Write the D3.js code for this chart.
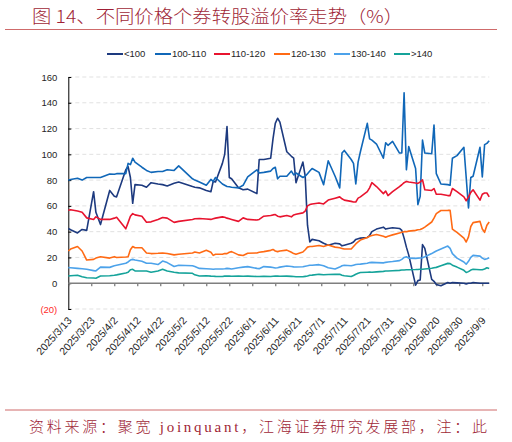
<!DOCTYPE html>
<html>
<head>
<meta charset="utf-8">
<script src="https://cdn.jsdelivr.net/npm/d3@7"></script>
<style>
body{margin:0;background:#fff;}
svg{display:block;}
</style>
</head>
<body>
<div id="chart"></div>
<script>
//trading days (2025)
var dates=['3/13','3/14','3/17','3/19','3/21','3/24','3/25','3/27','3/31','4/2',
'4/3','4/7','4/8','4/9','4/10','4/11','4/14','4/16','4/18','4/21',
'4/23','4/25','4/28','4/30','5/6','5/7','5/9','5/12','5/14','5/15',
'5/16','5/19','5/20','5/21','5/22','5/23','5/26','5/28','5/30','6/3',
'6/4','6/6','6/9','6/10','6/11','6/12','6/13','6/16','6/18','6/19',
'6/20','6/23','6/24','6/25','6/26','6/27','6/30','7/2','7/4','7/7',
'7/9','7/10','7/11','7/14','7/15','7/16','7/17','7/18','7/21','7/22',
'7/23','7/25','7/28','7/29','7/30','8/1','8/4','8/5','8/6','8/7',
'8/8','8/11','8/12','8/13','8/14','8/15','8/18','8/19','8/20','8/22',
'8/25','8/26','8/27','8/29','9/1','9/2','9/3','9/4','9/5','9/8',
'9/9','9/10','9/11','9/12'];

var below100=[42.5,41.5,39,41.7,41,71,55,45.5,72,67.5,
67,88,90.5,82,62,76.5,76,74.5,78,77,
76.5,75.5,77.5,78.5,75,74.5,74,72,71,79,
78.5,93,100,121.5,82,81,74,72.5,73,69.5,
96,96,97,112,124,128,125,102,98.5,97,
78,94,83,45,32,34,33,31,29.5,31,
30.5,29,29.5,31,32,34,34.5,35,35.5,37,
40,42,43.5,42,42.5,43,42.5,41,35,28,
22,-1.5,2,2.5,30,27,3,1.5,-1,-2,
0.5,0,0.5,0.3,0,-0.5,0,0,0.5,0,
0,0,0,0];

var p100_110=[79.8,80.5,81.5,80,82,82,82,82,84.7,84.5,
85,85,93,92,97,94,90,87.5,86,86.7,
86.7,88,87.5,91,81,80,78.5,76,80.5,79,
82,77,76,75,74.8,74.5,74,76,82.5,88,
85.5,86,87,89,90,81,83,83,87,84,
85.5,82,83,85,87,89,86,76.4,95,83,
74,101,103,96,93,77,94,102,124,112,
111,108,97,109,107,110,101,101,147.7,88,
106,89,61,67.4,111,101,100.4,122.7,85,77,
76.5,76,97,99,105.5,82,58.4,82,83,105.5,
82.4,107.5,108.5,110.6];

var p110_120=[56.6,57,56,55,50.7,49.4,51.5,49.5,49.5,50.5,
51.2,42.2,47,52,54,53,52,47.3,47.6,49.5,
51,50.5,47.2,48,49.5,50,50.2,49.8,49.5,50,
50.5,51.5,51.2,50.5,50,49.5,48,50.7,49.5,49,
49.5,52,52.5,53,53.3,52,51.5,52.5,51.5,53,
53.5,54.6,56,60,61,61.5,62.3,61.5,64.5,66,
67,65.5,64.5,63.5,63,63,66,67,71,74,
78,75,69.5,71.5,68,71,75,76.4,78,79,
78.5,77.7,77.5,78.5,80.3,72.5,72,73.5,69,69,
68,68,73.5,71,67,64,67,70.5,72.5,64.5,
69,70,70,67];

var p120_130=[25,26.5,28.5,25,18,18.5,19.5,20.5,19.5,20.6,
20,20.3,20.5,26,28.5,27.5,27.5,23.5,23,23.2,
23.5,23,22,22.5,23.5,24.2,23.5,25.5,24,21.6,
22.5,22.5,23,23,24,24.5,22,21.5,23.2,23.5,
24,24.5,25.5,26.2,25,24.5,25,25.7,24,23,
22.4,24.2,26,28,28.5,28.5,29.3,28.5,29.6,28,
27.5,27,26.5,26.5,28.5,30.5,32,33.5,35.5,36.5,
37,37.8,36.5,35.7,36.5,37.5,39,39.5,40,40,
40.4,41,41.5,41.7,42.5,43.5,47.5,50.5,54,56.4,
56.5,56.6,42,39.5,35,32,36,44,47,48,
42,39.5,45,47.5];

var p130_140=[12.1,12,11.5,11.2,10.8,9.8,9.5,12.5,12.3,13.5,
13.9,15.5,16.5,18,18.5,18,17,15.5,15.5,14.5,
17.2,16,13,14,13.5,12.9,11.5,11.2,11,10.8,
11,11,11.2,11.5,11.3,11,12,12.5,12.9,11.5,
11.3,12.9,12.5,12.2,11.8,12,12.5,13.4,13,12.7,
12.6,12.8,13.2,13.5,13.9,14,14.4,13.5,12,11,
12.5,13.5,13.9,13.5,14,14.5,14.7,14.8,15.5,16,
16.2,16,15.8,16.2,16.5,16.8,17.5,18.5,20,20.5,
19.5,19.3,19.5,19.6,19.8,20.5,23,24,25,26.5,
28.8,27,23,19.5,16.5,14.7,17,20,21.6,21,
19.5,18.5,19,19.8];

var above140=[5.6,5.8,6.2,5,4.2,4,3.9,5.6,5.8,6.2,
6.5,8,8.5,10.5,10.8,9.5,9.5,9.5,8.5,9.5,
10.8,9.5,8.5,8,7.7,6.5,5.6,5.8,5.5,5.4,
5.3,5.2,5.5,5.6,5.5,5.4,5.6,5.4,5.5,5.2,
5.2,5.3,5.2,5.4,5.6,5.5,5.4,5.5,5.3,5.2,
5,5,5.3,5.6,6.2,6.3,6.9,6.6,6.8,7,
6.9,6.2,5.8,5.2,6,7,7.8,8.3,8.5,8.6,
8.5,8.8,9.2,9.5,9.5,9.7,10,10.2,10.3,10.4,
10.5,10.6,10.7,10.8,10.8,11,11.6,12,12.3,13.5,
15.4,15.2,14,12.5,10,8.3,9,10.2,10.8,10.5,
10.5,11,12,11.5];

var seriesNames=['<100','100-110','110-120','120-130','130-140','>140'];
var seriesValues=[below100,p100_110,p110_120,p120_130,p130_140,above140];
var colors=['#1d3a7f','#1067b8','#e8142f','#ff6a14','#4ca2ea','#15a39a'];
var yTicks=[-20,0,20,40,60,80,100,120,140,160];

var W=512,H=442;
var parse=d3.timeParse('%Y/%m/%d');
var xDates=dates.map(function(d){return parse('2025/'+d);});
var start=xDates[0],end=xDates[xDates.length-1];

var x=d3.scaleTime().domain([start,end]).range([68.3,489.2]);
var y=d3.scaleLinear().domain([-20,160]).range([309,77]);

var svg=d3.select('#chart').append('svg').attr('width',W).attr('height',H);

//title
svg.append('text')
	.attr('x',32).attr('y',23)
	.attr('textLength',371).attr('lengthAdjust','spacingAndGlyphs')
	.style('font-family','"Noto Sans CJK SC",sans-serif')
	.style('font-size','18px').style('font-weight',300)
	.style('fill','#a01f36')
	.text('图 14、不同价格个券转股溢价率走势（%）');
svg.append('line').attr('x1',5).attr('x2',497).attr('y1',29.5).attr('y2',29.5)
	.style('stroke','#cf6b6b').style('stroke-width',1);

//legend
var legendX=[107,155,214,274,334,394];
var lg=svg.selectAll('g.lg').data(seriesNames).enter().append('g').attr('class','lg')
	.attr('transform',function(d,i){return 'translate('+legendX[i]+',54)';});
lg.append('line').attr('x1',0).attr('x2',16).attr('y1',0).attr('y2',0)
	.style('stroke',function(d,i){return colors[i];}).style('stroke-width',2);
lg.append('text').attr('x',17).attr('y',3.3).text(function(d){return d;})
	.style('font-family','"Liberation Sans",Arial,sans-serif')
	.style('font-size','9.5px').style('fill','#262626');

//gridlines
svg.selectAll('line.grid').data(yTicks.filter(function(v){return v!==0;})).enter()
	.append('line').attr('class','grid')
	.attr('x1',68.3).attr('x2',489.2)
	.attr('y1',function(d){return y(d);}).attr('y2',function(d){return y(d);})
	.style('stroke','#d9d9d9').style('stroke-width',0.8).style('stroke-dasharray','4,3');

//y axis
var yAxis=d3.axisLeft(y).tickValues(yTicks).tickSize(0).tickPadding(11)
	.tickFormat(function(d){return d<0?'('+(-d)+')':d;});
var gy=svg.append('g').attr('transform','translate(68.3,0)').call(yAxis);
gy.select('.domain').style('stroke','#000').style('stroke-width',1);
gy.selectAll('text')
	.style('font-family','"Liberation Sans",Arial,sans-serif')
	.style('font-size','9.5px')
	.style('fill',function(d){return d<0?'#ff2a2a':'#262626';});
gy.selectAll('.tick').append('line').attr('x1',0).attr('x2',3).style('stroke','#000');

//x axis on zero line, labels at the bottom
var xTicks=d3.range(0,19).map(function(i){return d3.timeDay.offset(start,i*10);});
var fmt=d3.timeFormat('%Y/%-m/%-d');
var xAxis=d3.axisBottom(x).tickValues(xTicks).tickSize(3).tickFormat('');
var gx=svg.append('g').attr('transform','translate(0,'+y(0)+')').call(xAxis);
gx.select('.domain').remove();
gx.selectAll('.tick line').style('stroke','#595959');
svg.append('line').attr('x1',68.3).attr('x2',489.2).attr('y1',y(0)).attr('y2',y(0))
	.style('stroke','#7f7f7f').style('stroke-width',1.5);

svg.selectAll('text.xl').data(xTicks).enter().append('text').attr('class','xl')
	.attr('transform',function(d){return 'translate('+(x(d)+4)+',321) rotate(-48)';})
	.attr('text-anchor','end')
	.style('font-family','"Liberation Sans",Arial,sans-serif')
	.style('font-size','10.5px').style('fill','#262626')
	.text(function(d){return fmt(d);});

//series
var line=d3.line().x(function(d,i){return x(xDates[i]);}).y(function(d){return y(d);});
svg.selectAll('path.series').data(seriesValues).enter().append('path').attr('class','series')
	.attr('d',line)
	.style('fill','none')
	.style('stroke',function(d,i){return colors[i];})
	.style('stroke-width',1.6)
	.style('stroke-linejoin','round');

//source
svg.append('line').attr('x1',5).attr('x2',497).attr('y1',410).attr('y2',410)
	.style('stroke','#cf6b6b').style('stroke-width',1);
svg.append('text')
	.attr('x',29).attr('y',432)
	.attr('textLength',458).attr('lengthAdjust','spacing')
	.style('font-family','"Liberation Serif","Noto Sans CJK SC",serif')
	.style('font-size','15px').style('font-weight',300)
	.style('fill','#a01f36')
	.text('资料来源：聚宽 joinquant，江海证券研究发展部，注：此');
</script>
</body>
</html>
